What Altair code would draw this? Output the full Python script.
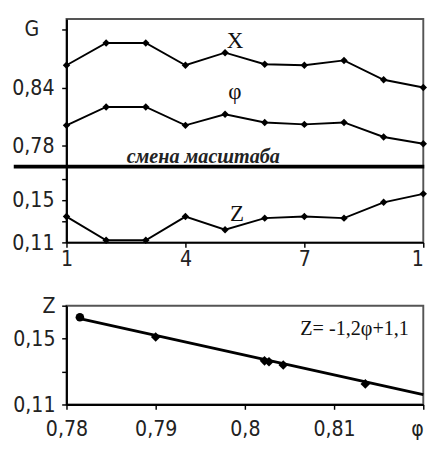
import altair as alt
import pandas as pd

# ---- data ----
x_vals = [1, 2, 3, 4, 5, 6, 7, 8, 9, 10]
X_vals = [0.863, 0.886, 0.886, 0.863, 0.876, 0.864, 0.863, 0.868, 0.848, 0.840]
phi_vals = [0.801, 0.820, 0.820, 0.801, 0.8125, 0.804, 0.802, 0.804, 0.789, 0.782]
Z_vals = [0.1345, 0.112, 0.112, 0.1345, 0.122, 0.133, 0.1345, 0.133, 0.148, 0.156]

phi_pts = [0.7900, 0.8022, 0.8027, 0.8043, 0.8135]
Z_pts = [0.151, 0.1365, 0.136, 0.134, 0.1225]
phi_first = [0.7815]
Z_first = [0.163]
fit_phi = [0.7815, 0.8200]
fit_Z = [0.1622, 0.1160]

# annotations (text, x, value)
ann_text = ["X", "φ", "Z"]
ann_x = [5.25, 5.25, 5.3]
ann_v = [0.888, 0.835, 0.137]
scale_note = ["смена масштаба"]
note_x = [4.45]
note_v = [0.7619]
g_label = ["G"]
g_v = [0.90]
eq_text = ["Z= -1,2φ+1,1"]
eq_x = [0.8123]
eq_y = [0.156]

# broken (piecewise) value axis: lower part Z, upper part G / phi
break_domain = [0.11, 0.1818, 0.7584, 0.9108]
y_ticks = [0.11, 0.13, 0.15, 0.17, 0.78, 0.84, 0.90]
x_ticks = [1, 4, 7, 10]

SANS = "Liberation Sans Narrow, DejaVu Sans Condensed, sans-serif"
SERIF = "Liberation Serif, DejaVu Serif, serif"
W = 372
H_TOP = 154
H_MID = 79
H = H_TOP + H_MID

def axis(**kw):
    base = dict(domainColor="black", domainWidth=2, tickColor="black", tickWidth=1.5,
                tickSize=5, grid=False, title=None, labelFont=SANS, labelFontSize=22,
                labelColor="#222", labelOverlap=False)
    base.update(kw)
    return alt.Axis(**base)

# ---- upper chart: X, phi (top part) and Z (lower part) on a broken axis ----
series_df = pd.DataFrame({
    "x": x_vals * 3,
    "v": X_vals + phi_vals + Z_vals,
    "s": ["X"] * 10 + ["phi"] * 10 + ["Z"] * 10,
})
sx = alt.Scale(domain=[1, 10], nice=False, zero=False)
sy = alt.Scale(domain=break_domain, range=[H, H_TOP, H_TOP, 0], nice=False, zero=False)
ax_x = axis(values=x_ticks, labelPadding=2,
            labelExpr="datum.value > 9 ? '1' : datum.label",
            labelAlign={"condition": {"test": "datum.value > 9", "value": "right"},
                        "value": "center"})
ax_y = axis(values=y_ticks, labelPadding=8,
            labelExpr="datum.value < 0.12 ? '0,11' : ((datum.value > 0.14 && datum.value < 0.16) ? '0,15' : ((datum.value > 0.77 && datum.value < 0.79) ? '0,78' : ((datum.value > 0.83 && datum.value < 0.85) ? '0,84' : '')))")
X_ENC = alt.X("x:Q", scale=sx, axis=ax_x)
Y_ENC = alt.Y("v:Q", scale=sy, axis=ax_y)

base = alt.Chart(series_df)
lines = base.mark_line(color="black", strokeWidth=2).encode(x=X_ENC, y=Y_ENC, detail="s:N")
pts = base.mark_point(shape="diamond", filled=True, color="black", opacity=1, size=60).encode(
    x=X_ENC, y=Y_ENC)
ann = alt.Chart(pd.DataFrame({"t": ann_text, "x": ann_x, "v": ann_v})).mark_text(
    font=SERIF, fontSize=24, color="#111").encode(x=X_ENC, y=Y_ENC, text="t:N")
note = alt.Chart(pd.DataFrame({"t": scale_note, "x": note_x, "v": note_v})).mark_text(
    font=SERIF, fontSize=21, fontStyle="italic", fontWeight="bold", color="#222",
    baseline="alphabetic").encode(x=X_ENC, y=Y_ENC, text="t:N")
g_txt = alt.Chart(pd.DataFrame({"t": g_label, "v": g_v})).mark_text(
    font=SANS, fontSize=22, color="#222").encode(x=alt.value(-36), y=Y_ENC, text="t:N")
thick = alt.Chart(pd.DataFrame({"v": [0.47]})).mark_rule(color="black", strokeWidth=4).encode(
    x=alt.value(-55), x2=alt.value(W + 1), y=Y_ENC)
upper = alt.layer(lines, pts, ann, note, g_txt, thick).properties(width=W, height=H)

# ---- bottom panel (Z vs phi) ----
sx_b = alt.Scale(domain=[0.78, 0.82], nice=False, zero=False)
sy_b = alt.Scale(domain=[0.11, 0.17], nice=False, zero=False)
ax_xb = axis(values=[0.78, 0.79, 0.80, 0.81, 0.82], labelPadding=10,
             labelExpr="datum.value > 0.815 ? 'φ' : replace(format(datum.value, '.2~f'), '.', ',')",
             labelAlign={"condition": {"test": "datum.value > 0.815", "value": "right"},
                         "value": "center"})
ax_yb = axis(values=[0.11, 0.13, 0.15, 0.17], labelPadding=7,
             labelExpr="datum.value < 0.12 ? '0,11' : ((datum.value > 0.14 && datum.value < 0.16) ? '0,15' : (datum.value > 0.165 ? 'Z' : ''))")
XB = alt.X("p:Q", scale=sx_b, axis=ax_xb)
YB = alt.Y("z:Q", scale=sy_b, axis=ax_yb)
fit = alt.Chart(pd.DataFrame({"p": fit_phi, "z": fit_Z})).mark_line(
    color="black", strokeWidth=3).encode(x=XB, y=YB)
b_pts = alt.Chart(pd.DataFrame({"p": phi_pts, "z": Z_pts})).mark_point(
    shape="diamond", filled=True, color="black", opacity=1, size=100).encode(x=XB, y=YB)
b_first = alt.Chart(pd.DataFrame({"p": phi_first, "z": Z_first})).mark_point(
    shape="circle", filled=True, color="black", opacity=1, size=80).encode(x=XB, y=YB)
eq = alt.Chart(pd.DataFrame({"t": eq_text, "p": eq_x, "z": eq_y})).mark_text(
    font=SERIF, fontSize=21, color="#111").encode(x=XB, y=YB, text="t:N")
bottom = alt.layer(fit, b_pts, b_first, eq).properties(width=W, height=103)

chart = alt.vconcat(upper, bottom, spacing=25).resolve_scale(
    x="independent", y="independent"
).properties(
    padding={"left": 2, "top": 0, "right": 0, "bottom": 0}
).configure_view(stroke="#555", strokeWidth=2)

chart.save("out.html", embed_options={"renderer": "svg", "actions": False})
